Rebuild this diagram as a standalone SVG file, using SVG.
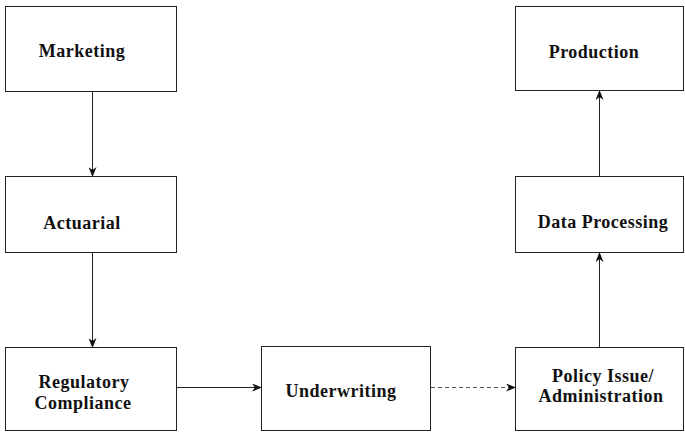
<svg xmlns="http://www.w3.org/2000/svg" width="685" height="433" viewBox="0 0 685 433">
<defs>
<style>
.box{fill:#fff;stroke:#222;stroke-width:1}
.t{font-family:"Liberation Serif","Times New Roman",serif;font-size:18px;font-weight:bold;fill:#111;text-anchor:middle;letter-spacing:0.5px}
.c{stroke:#222;stroke-width:1;fill:none}
.d{stroke:#555;stroke-width:1;fill:none;stroke-dasharray:4 3}
</style>
<marker id="ah" markerWidth="10" markerHeight="8" refX="9" refY="4" orient="auto" markerUnits="userSpaceOnUse">
<path d="M0,0 L10,4 L0,8 L3,4 Z" fill="#111"/>
</marker>
</defs>
<rect width="685" height="433" fill="#fff"/>
<g id="marketing"><rect class="box" x="5.5" y="6.5" width="171" height="85"/><text class="t" x="82" y="57">Marketing</text></g>
<g id="actuarial"><rect class="box" x="5.5" y="176.5" width="171" height="76"/><text class="t" x="82" y="229">Actuarial</text></g>
<g id="regulatory"><rect class="box" x="5.5" y="347.5" width="171" height="83"/><text class="t" x="84" y="388">Regulatory</text><text class="t" x="83" y="409">Compliance</text></g>
<g id="underwriting"><rect class="box" x="261.5" y="346.5" width="169" height="84"/><text class="t" x="341" y="397">Underwriting</text></g>
<g id="policy"><rect class="box" x="515.5" y="347.5" width="168" height="83"/><text class="t" x="603" y="382">Policy Issue/</text><text class="t" x="601" y="402">Administration</text></g>
<g id="dataprocessing"><rect class="box" x="515.5" y="176.5" width="168" height="76"/><text class="t" x="603" y="228">Data Processing</text></g>
<g id="production"><rect class="box" x="515.5" y="6.5" width="168" height="84"/><text class="t" x="594" y="58">Production</text></g>
<g id="connectors">
<line class="c" x1="92.5" y1="92" x2="92.5" y2="176" marker-end="url(#ah)"/>
<line class="c" x1="92.5" y1="253" x2="92.5" y2="347" marker-end="url(#ah)"/>
<line class="c" x1="177" y1="387.5" x2="261" y2="387.5" marker-end="url(#ah)"/>
<line class="d" x1="431" y1="387.5" x2="515" y2="387.5" marker-end="url(#ah)"/>
<line class="c" x1="599.5" y1="347" x2="599.5" y2="253" marker-end="url(#ah)"/>
<line class="c" x1="599.5" y1="176" x2="599.5" y2="91" marker-end="url(#ah)"/>
</g>
</svg>
